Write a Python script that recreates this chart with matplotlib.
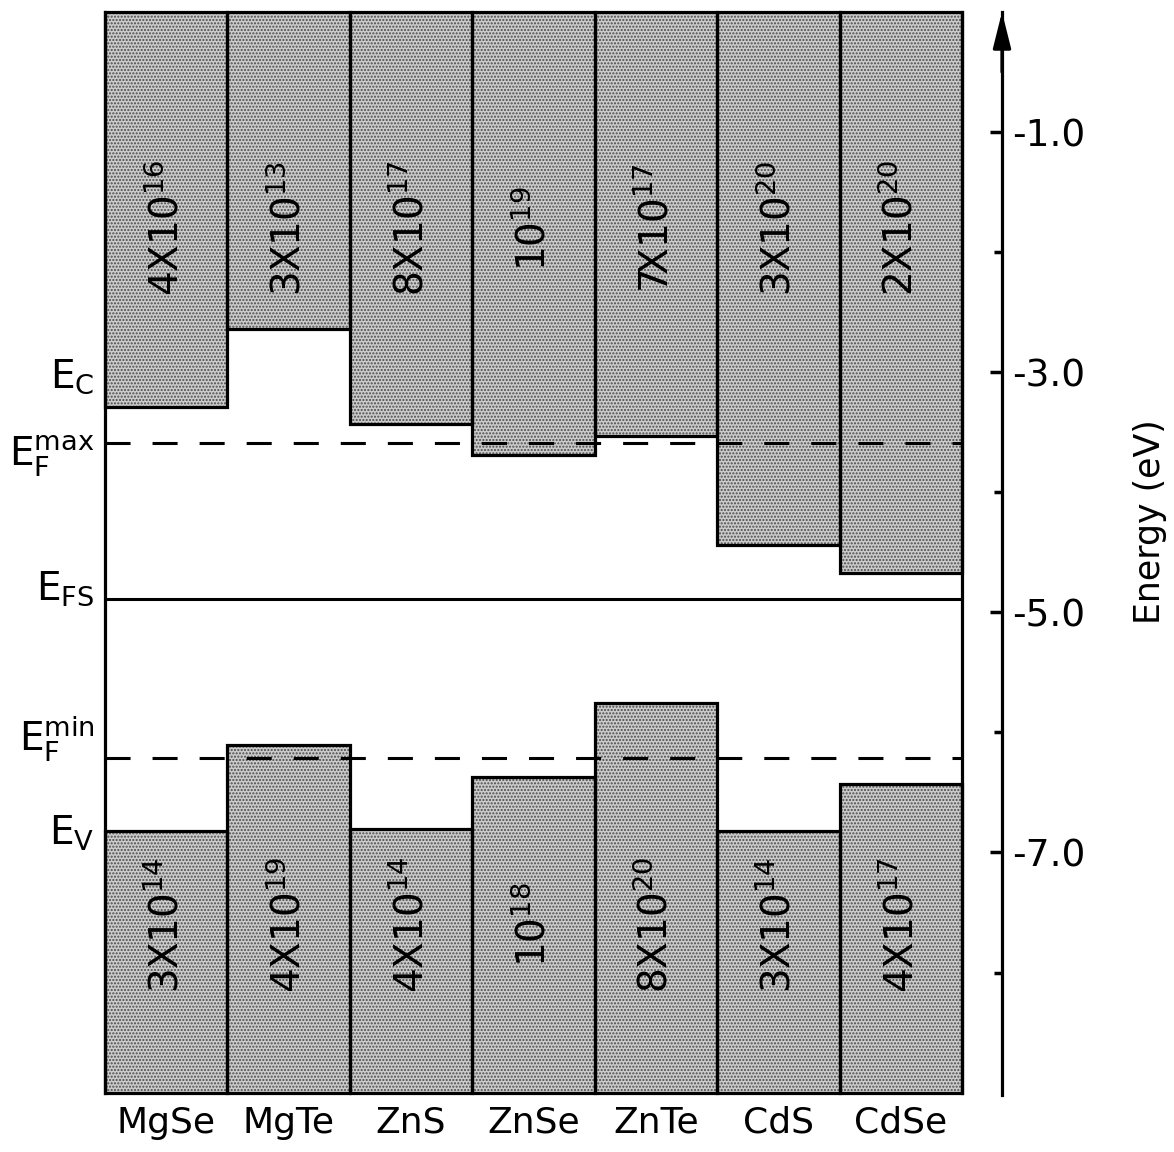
import matplotlib
matplotlib.use('Agg')
import matplotlib.pyplot as plt

plt.rcParams['font.family'] = 'DejaVu Sans'
plt.rcParams['mathtext.default'] = 'regular'
plt.rcParams['hatch.linewidth'] = 1.0

# band edges (eV) per compound
compounds = ['MgSe', 'MgTe', 'ZnS', 'ZnSe', 'ZnTe', 'CdS', 'CdSe']
ec = [-3.29, -2.64, -3.43, -3.69, -3.53, -4.44, -4.67]
ev = [-6.82, -6.10, -6.80, -6.37, -5.75, -6.82, -6.43]

# doping limits written in the bars
top_mant = ['4', '3', '8', '', '7', '3', '2']
top_exp = ['16', '13', '17', '19', '17', '20', '20']
bot_mant = ['3', '4', '4', '', '8', '3', '4']
bot_exp = ['14', '19', '14', '18', '20', '14', '17']

ef_max = -3.59
ef_s = -4.89
ef_min = -6.21

e_top = 0.0
e_bot = -9.0

energy_ticks = [-1.0, -3.0, -5.0, -7.0]
energy_minor = [-2.0, -4.0, -6.0, -8.0]

W, H = 1174, 1152
fig = plt.figure(figsize=(W / 100, H / 100), dpi=100)
ax = fig.add_axes([105 / W, 59 / H, 857 / W, 1081 / H])

x = list(range(len(compounds)))
top_h = [e_top - e for e in ec]
bot_h = [e - e_bot for e in ev]

# stippled fill, then black outlines
for h, b in [(top_h, ec), (bot_h, e_bot)]:
    ax.bar(x, h, bottom=b, width=1.0, color='#cbcbcb', edgecolor='#4a4a4a',
           hatch='.....', linewidth=0, clip_on=False, zorder=1)
    ax.bar(x, h, bottom=b, width=1.0, fill=False, edgecolor='black',
           linewidth=2.3, clip_on=False, zorder=2)

ax.axhline(ef_max, color='black', lw=2.2, dashes=(8.2, 7.2), zorder=3)
ax.axhline(ef_min, color='black', lw=2.2, dashes=(8.2, 7.2), zorder=3)
ax.axhline(ef_s, color='black', lw=2.2, zorder=3)

for i in x:
    m = top_mant[i] + 'X' if top_mant[i] else ''
    ax.text(i, -1.8, m + '10$^{' + top_exp[i] + '}$', rotation=90,
            ha='center', va='center', fontsize=28, zorder=4)
    m = bot_mant[i] + 'X' if bot_mant[i] else ''
    ax.text(i, -7.6, m + '10$^{' + bot_exp[i] + '}$', rotation=90,
            ha='center', va='center', fontsize=28, zorder=4)

tr = ax.get_yaxis_transform()
left_labels = [('$E_C$', -3.04), ('$E_F^{max}$', -3.7), ('$E_{FS}$', -4.8),
               ('$E_F^{min}$', -6.05), ('$E_V$', -6.84)]
for s, yy in left_labels:
    ax.text(-0.012, yy, s, transform=tr, ha='right', va='center', fontsize=28)

ax.set_xlim(-0.5, len(compounds) - 0.5)
ax.set_ylim(e_bot, e_top)
ax.set_xticks(x)
ax.set_xticklabels(compounds, fontsize=26)
ax.tick_params(axis='x', length=0, pad=9)
ax.set_yticks([])
for s in ['top', 'bottom']:
    ax.spines[s].set_visible(False)
for s in ['left', 'right']:
    ax.spines[s].set_linewidth(2.3)

# energy scale on the right
ax2 = fig.add_axes([992 / W, 57 / H, 10 / W, 1083 / H])
ax2.set_xlim(0, 1)
ax2.set_ylim(e_bot - 0.02, e_top)
ax2.patch.set_visible(False)
for s in ['top', 'bottom', 'left']:
    ax2.spines[s].set_visible(False)
ax2.spines['right'].set_linewidth(2.3)
ax2.set_xticks([])
ax2.yaxis.tick_right()
ax2.set_yticks(energy_ticks)
ax2.set_yticklabels(['%.1f' % v for v in energy_ticks], fontsize=27)
ax2.set_yticks(energy_minor, minor=True)
ax2.tick_params(axis='y', which='major', direction='in', length=9, width=2.5, pad=7)
ax2.tick_params(axis='y', which='minor', direction='in', length=6, width=2.5)
ax2.annotate('', xy=(1, e_top), xytext=(1, e_top - 0.5),
             arrowprops=dict(arrowstyle='-|>,head_length=1.0,head_width=0.25',
                             color='black', lw=2.3, mutation_scale=22,
                             shrinkA=0, shrinkB=0),
             annotation_clip=False)

fig.text(1150 / W, 1 - 522 / H, 'Energy (eV)', rotation=90, ha='center',
         va='center', fontsize=25)

fig.savefig('out.png', dpi=100)
